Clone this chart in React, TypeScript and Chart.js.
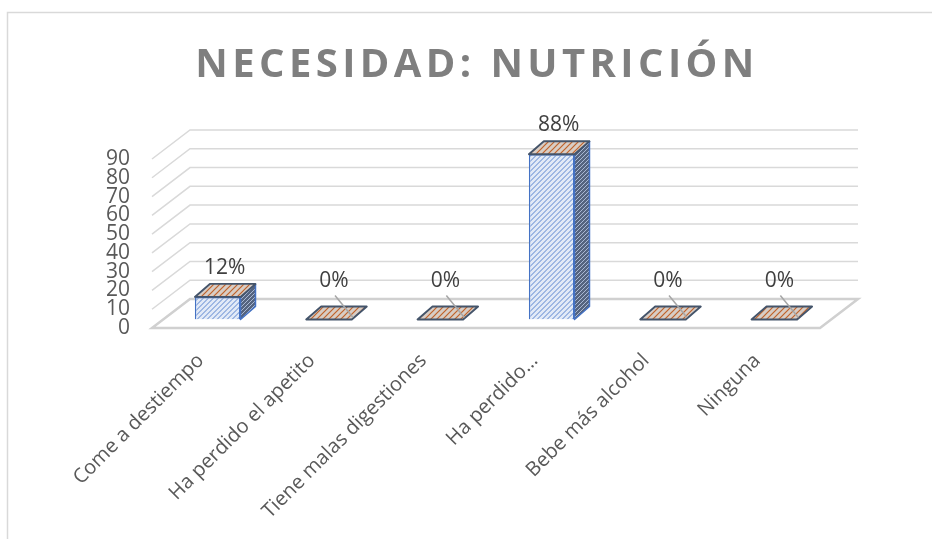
import React, { useEffect, useRef } from 'react';
import { Chart, registerables } from 'chart.js';

Chart.register(...registerables);

const titleText = 'NECESIDAD: NUTRICIÓN';
const categories = [
  'Come a destiempo',
  'Ha perdido el apetito',
  'Tiene malas digestiones',
  'Ha perdido…',
  'Bebe más alcohol',
  'Ninguna',
];
const values = [12, 0, 0, 88, 0, 0];
const valueLabels = ['12%', '0%', '0%', '88%', '0%', '0%'];
const yTickValues = [0, 10, 20, 30, 40, 50, 60, 70, 80, 90];

// drawing constants (3D look)
const WALL_DX = 38;
const WALL_DY = -29;
const BAR_OX = 10;
const BAR_OY = -8.5;
const BAR_DX = 15;
const BAR_DY = -13;

function makePattern(bg: string, fg: string, size: number, lw: number): CanvasPattern | string {
  const c = document.createElement('canvas');
  c.width = size;
  c.height = size;
  const g = c.getContext('2d');
  if (!g) return bg;
  g.fillStyle = bg;
  g.fillRect(0, 0, size, size);
  g.strokeStyle = fg;
  g.lineWidth = lw;
  g.beginPath();
  g.moveTo(-1, size + 1);
  g.lineTo(size + 1, -1);
  g.moveTo(-1, 1);
  g.lineTo(1, -1);
  g.moveTo(size - 1, size + 1);
  g.lineTo(size + 1, size - 1);
  g.stroke();
  const p = g.createPattern(c, 'repeat');
  return p || bg;
}

export default function App() {
  const ref = useRef<HTMLCanvasElement | null>(null);

  useEffect(() => {
    const canvas = ref.current;
    if (!canvas) return;
    const frontPat = makePattern('#e2eaf7', '#5b84cf', 5, 1);
    const topPat = makePattern('#d8cdc5', '#c0622a', 6, 1.2);
    const sidePat = makePattern('#55647f', '#a9b8d4', 4, 1);

    const threeD = {
      id: 'threeD',
      beforeDraw(chart: any) {
        const ctx = chart.ctx;
        ctx.save();
        ctx.strokeStyle = '#d9d9d9';
        ctx.lineWidth = 1.5;
        ctx.strokeRect(7.5, 12.5, 1200, 1200);
        ctx.restore();
      },
      beforeDatasetsDraw(chart: any) {
        const ctx = chart.ctx;
        const { left, right } = chart.chartArea;
        const ys = chart.scales.y;
        ctx.save();
        ctx.strokeStyle = '#d9d9d9';
        ctx.lineWidth = 1.5;
        yTickValues.forEach((v) => {
          if (v === 0) return;
          const y = ys.getPixelForValue(v);
          ctx.beginPath();
          ctx.moveTo(left, y);
          ctx.lineTo(left + WALL_DX, y + WALL_DY);
          ctx.lineTo(right + WALL_DX, y + WALL_DY);
          ctx.stroke();
        });
        const y0 = ys.getPixelForValue(0);
        ctx.strokeStyle = '#d0d0d0';
        ctx.lineWidth = 2.5;
        ctx.beginPath();
        ctx.moveTo(left, y0);
        ctx.lineTo(right, y0);
        ctx.lineTo(right + WALL_DX, y0 + WALL_DY);
        ctx.lineTo(left + WALL_DX, y0 + WALL_DY);
        ctx.closePath();
        ctx.stroke();
        ctx.restore();
        ctx.save();
        ctx.translate(BAR_OX, BAR_OY);
      },
      afterDatasetsDraw(chart: any) {
        const ctx = chart.ctx;
        ctx.restore();
        const meta = chart.getDatasetMeta(0);
        meta.data.forEach((bar: any, i: number) => {
          const p = bar.getProps(['x', 'y', 'base', 'width'], true);
          const x0 = p.x - p.width / 2 + BAR_OX;
          const x1 = p.x + p.width / 2 + BAR_OX;
          const yt = p.y + BAR_OY;
          const yb = p.base + BAR_OY;
          ctx.save();
          ctx.lineJoin = 'round';
          if (values[i] > 0) {
            ctx.beginPath();
            ctx.moveTo(x1, yt);
            ctx.lineTo(x1 + BAR_DX, yt + BAR_DY);
            ctx.lineTo(x1 + BAR_DX, yb + BAR_DY);
            ctx.lineTo(x1, yb);
            ctx.closePath();
            ctx.fillStyle = sidePat;
            ctx.fill();
            ctx.strokeStyle = '#4472c4';
            ctx.lineWidth = 1.5;
            ctx.stroke();
          }
          ctx.beginPath();
          ctx.moveTo(x0, yt);
          ctx.lineTo(x1, yt);
          ctx.lineTo(x1 + BAR_DX, yt + BAR_DY);
          ctx.lineTo(x0 + BAR_DX, yt + BAR_DY);
          ctx.closePath();
          ctx.fillStyle = topPat;
          ctx.fill();
          ctx.strokeStyle = '#44546a';
          ctx.lineWidth = 1.8;
          ctx.stroke();

          ctx.font = '21px "Open Sans"';
          ctx.fillStyle = '#404040';
          ctx.textAlign = 'center';
          ctx.textBaseline = 'middle';
          const cx = p.x + BAR_OX + 5;
          if (values[i] > 0) {
            ctx.fillText(valueLabels[i], cx + 2, yt + BAR_DY - 16);
          } else {
            const ly = yb - 38;
            ctx.fillText(valueLabels[i], cx, ly);
            ctx.strokeStyle = '#a6a6a6';
            ctx.lineWidth = 1.5;
            ctx.beginPath();
            ctx.moveTo(cx + 1, ly + 14);
            ctx.lineTo(cx + 19, yb - 2);
            ctx.stroke();
          }
          ctx.restore();
        });
      },
      afterDraw(chart: any) {
        const ctx = chart.ctx;
        ctx.save();
        ctx.font = 'bold 40px "Open Sans"';
        (ctx as any).letterSpacing = '4.4px';
        ctx.fillStyle = '#7f7f7f';
        ctx.textAlign = 'center';
        ctx.textBaseline = 'alphabetic';
        ctx.fillText(titleText, 477, 77);
        ctx.restore();
      },
    };

    const chart = new Chart(canvas, {
      type: 'bar',
      data: {
        labels: categories,
        datasets: [
          {
            data: values,
            backgroundColor: frontPat as any,
            borderColor: '#4472c4',
            borderWidth: ((c: any) => (values[c.dataIndex] === 0 ? 0 : 1.5)) as any,
            barPercentage: 0.41,
            categoryPercentage: 1,
          },
        ],
      },
      options: {
        responsive: false,
        animation: false,
        layout: { padding: { top: 159, right: 112, bottom: 0, left: 0 } },
        plugins: {
          legend: { display: false },
          tooltip: { enabled: false },
          title: { display: false },
        },
        scales: {
          x: {
            grid: { display: false },
            border: { display: false },
            ticks: {
              autoSkip: false,
              minRotation: 45,
              maxRotation: 45,
              padding: 13,
              labelOffset: -7,
              color: '#595959',
              font: { family: '"Open Sans"', size: 20 },
            },
            afterFit: (s: any) => {
              s.height = 211;
            },
          },
          y: {
            min: 0,
            max: 90,
            grid: { display: false, drawTicks: false },
            border: { display: false },
            ticks: {
              stepSize: 10,
              autoSkip: false,
              padding: 22,
              color: '#595959',
              font: { family: '"Open Sans"', size: 21 },
            },
            afterFit: (s: any) => {
              s.width = 152;
            },
          },
        },
      },
      plugins: [threeD as any],
    });
    return () => chart.destroy();
  }, []);

  return (
    <div style={{ position: 'absolute', left: 0, top: 0, width: 932, height: 539, background: '#ffffff' }}>
      <canvas ref={ref} width={932} height={539} style={{ display: 'block' }} />
    </div>
  );
}
